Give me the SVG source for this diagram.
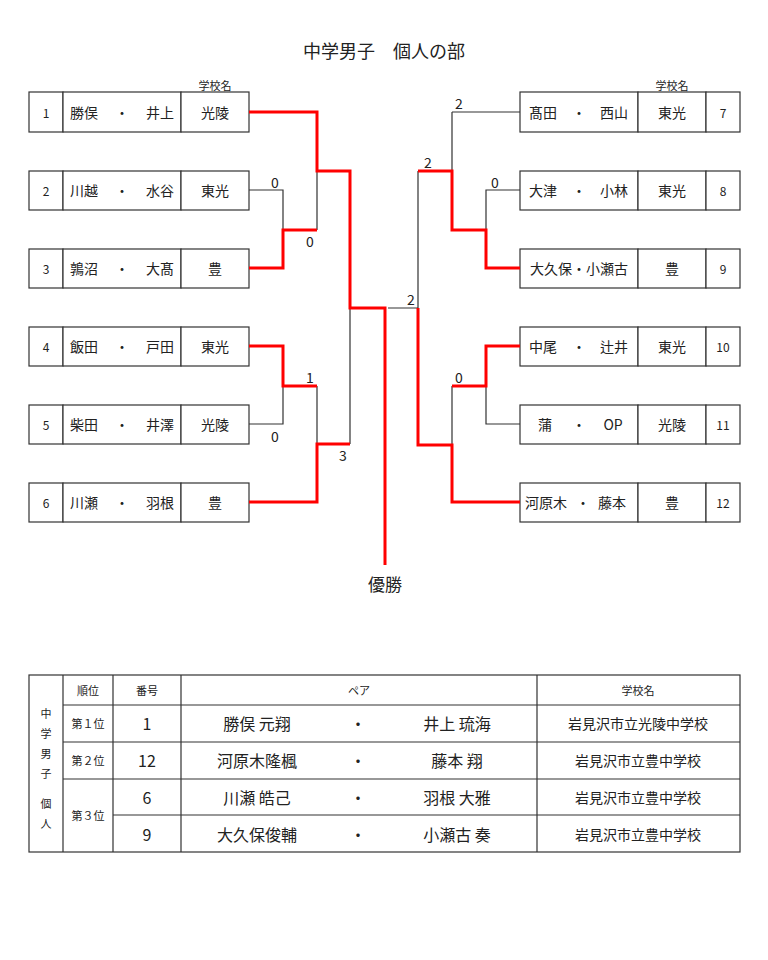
<svg xmlns="http://www.w3.org/2000/svg" width="768" height="960" viewBox="0 0 768 960">
<style>
text{font-family:"Noto Sans CJK JP","Liberation Sans",sans-serif;fill:#222;text-anchor:middle;dominant-baseline:central}
.b{fill:#fff;stroke:#333;stroke-width:1.2}
.n{font-size:14px}.s{font-size:12px}.h{font-size:11px}.sc{font-size:14px}
.k{fill:none;stroke:#333;stroke-width:1.2}
.r{fill:none;stroke:#f00;stroke-width:3}
.t{font-size:16px}
</style>
<rect width="768" height="960" fill="#fff"/>
<text x="384" y="50" style="font-size:18px">中学男子　個人の部</text>
<text x="215" y="85" class="h">学校名</text>
<text x="672" y="85" class="h">学校名</text>
<g id="left-nodes">
<g id="n1"><rect class="b" x="29" y="92" width="34" height="40"/><rect class="b" x="63" y="92" width="118" height="40"/><rect class="b" x="181" y="92" width="68" height="40"/><text x="46" y="112" class="s">1</text><text x="84" y="112" class="n">勝俣</text><text x="122" y="112" class="n">・</text><text x="160" y="112" class="n">井上</text><text x="215" y="112" class="n">光陵</text></g>
<g id="n2"><rect class="b" x="29" y="171" width="34" height="39"/><rect class="b" x="63" y="171" width="118" height="39"/><rect class="b" x="181" y="171" width="68" height="39"/><text x="46" y="190" class="s">2</text><text x="84" y="190" class="n">川越</text><text x="122" y="190" class="n">・</text><text x="160" y="190" class="n">水谷</text><text x="215" y="190" class="n">東光</text></g>
<g id="n3"><rect class="b" x="29" y="249" width="34" height="39"/><rect class="b" x="63" y="249" width="118" height="39"/><rect class="b" x="181" y="249" width="68" height="39"/><text x="46" y="268" class="s">3</text><text x="84" y="268" class="n">鶉沼</text><text x="122" y="268" class="n">・</text><text x="160" y="268" class="n">大髙</text><text x="215" y="268" class="n">豊</text></g>
<g id="n4"><rect class="b" x="29" y="327" width="34" height="39"/><rect class="b" x="63" y="327" width="118" height="39"/><rect class="b" x="181" y="327" width="68" height="39"/><text x="46" y="346" class="s">4</text><text x="84" y="346" class="n">飯田</text><text x="122" y="346" class="n">・</text><text x="160" y="346" class="n">戸田</text><text x="215" y="346" class="n">東光</text></g>
<g id="n5"><rect class="b" x="29" y="405" width="34" height="39"/><rect class="b" x="63" y="405" width="118" height="39"/><rect class="b" x="181" y="405" width="68" height="39"/><text x="46" y="424" class="s">5</text><text x="84" y="424" class="n">柴田</text><text x="122" y="424" class="n">・</text><text x="160" y="424" class="n">井澤</text><text x="215" y="424" class="n">光陵</text></g>
<g id="n6"><rect class="b" x="29" y="483" width="34" height="39"/><rect class="b" x="63" y="483" width="118" height="39"/><rect class="b" x="181" y="483" width="68" height="39"/><text x="46" y="502" class="s">6</text><text x="84" y="502" class="n">川瀬</text><text x="122" y="502" class="n">・</text><text x="160" y="502" class="n">羽根</text><text x="215" y="502" class="n">豊</text></g>
</g>
<g id="right-nodes">
<g id="n7"><rect class="b" x="520" y="92" width="118" height="40"/><rect class="b" x="638" y="92" width="68" height="40"/><rect class="b" x="706" y="92" width="34" height="40"/><text x="543" y="112" class="n">髙田</text><text x="579" y="112" class="n">・</text><text x="614" y="112" class="n">西山</text><text x="672" y="112" class="n">東光</text><text x="723" y="112" class="s">7</text></g>
<g id="n8"><rect class="b" x="520" y="171" width="118" height="39"/><rect class="b" x="638" y="171" width="68" height="39"/><rect class="b" x="706" y="171" width="34" height="39"/><text x="543" y="190" class="n">大津</text><text x="579" y="190" class="n">・</text><text x="614" y="190" class="n">小林</text><text x="672" y="190" class="n">東光</text><text x="723" y="190" class="s">8</text></g>
<g id="n9"><rect class="b" x="520" y="249" width="118" height="39"/><rect class="b" x="638" y="249" width="68" height="39"/><rect class="b" x="706" y="249" width="34" height="39"/><text x="579" y="268" class="n">大久保・小瀬古</text><text x="672" y="268" class="n">豊</text><text x="723" y="268" class="s">9</text></g>
<g id="n10"><rect class="b" x="520" y="327" width="118" height="39"/><rect class="b" x="638" y="327" width="68" height="39"/><rect class="b" x="706" y="327" width="34" height="39"/><text x="543" y="346" class="n">中尾</text><text x="579" y="346" class="n">・</text><text x="614" y="346" class="n">辻井</text><text x="672" y="346" class="n">東光</text><text x="723" y="346" class="s">10</text></g>
<g id="n11"><rect class="b" x="520" y="405" width="118" height="39"/><rect class="b" x="638" y="405" width="68" height="39"/><rect class="b" x="706" y="405" width="34" height="39"/><text x="545" y="424" class="n">蒲</text><text x="579" y="424" class="n">・</text><text x="613" y="424" class="n">OP</text><text x="672" y="424" class="n">光陵</text><text x="723" y="424" class="s">11</text></g>
<g id="n12"><rect class="b" x="520" y="483" width="118" height="39"/><rect class="b" x="638" y="483" width="68" height="39"/><rect class="b" x="706" y="483" width="34" height="39"/><text x="546" y="502" class="n">河原木</text><text x="583" y="502" class="n">・</text><text x="612" y="502" class="n">藤本</text><text x="672" y="502" class="n">豊</text><text x="723" y="502" class="s">12</text></g>
</g>
<g id="connectors">
<path class="k" d="M249,190H283V230M317,230V171M283,386V424H249M317,386V444M350,308V444M388,308H418V171M452,112H520M452,112V171M520,190H486V230M486,386V424H520M452,386V445"/>
<path class="r" d="M249,112H317V171H350V308H385V565"/>
<path class="r" d="M249,268H283V230H317"/>
<path class="r" d="M249,346H283V386H317"/>
<path class="r" d="M249,502H317V444H350"/>
<path class="r" d="M418,308V445H452V502H520"/>
<path class="r" d="M418,171H452V230H486V268H520"/>
<path class="r" d="M520,346H486V386H452"/>
</g>
<g id="scores" class="sc">
<text x="275" y="182" class="sc">0</text><text x="310" y="241" class="sc">0</text>
<text x="310" y="377" class="sc">1</text><text x="275" y="436" class="sc">0</text>
<text x="343" y="455" class="sc">3</text><text x="411" y="299" class="sc">2</text>
<text x="459" y="103" class="sc">2</text><text x="428" y="162" class="sc">2</text>
<text x="495" y="182" class="sc">0</text><text x="459" y="377" class="sc">0</text>
</g>
<text x="385" y="583" style="font-size:17px">優勝</text>
<g id="table">
<rect class="b" x="29" y="675" width="711" height="177"/>
<path class="k" d="M63,675V852M113,675V852M181,675V852M537,675V852M63,705H740M63,742H740M63,779H740M113,815H740"/>
<g class="h"><text x="46" y="713" class="h">中</text><text x="46" y="733" class="h">学</text><text x="46" y="753" class="h">男</text><text x="46" y="773" class="h">子</text><text x="46" y="803" class="h">個</text><text x="46" y="823" class="h">人</text></g>
<text x="88" y="690" class="h">順位</text><text x="147" y="690" class="h">番号</text><text x="359" y="690" class="h">ペア</text><text x="638" y="690" class="h">学校名</text>
<text x="88" y="723" class="h">第１位</text><text x="88" y="760" class="h">第２位</text><text x="88" y="815" class="h">第３位</text>
<text x="147" y="723" class="t">1</text><text x="147" y="760" class="t">12</text><text x="147" y="797" class="t">6</text><text x="147" y="834" class="t">9</text>
<text x="257" y="723" class="t">勝俣 元翔</text><text x="358" y="723" class="t">・</text><text x="457" y="723" class="t">井上 琉海</text>
<text x="257" y="760" class="t">河原木隆楓</text><text x="358" y="760" class="t">・</text><text x="457" y="760" class="t">藤本 翔</text>
<text x="257" y="797" class="t">川瀬 皓己</text><text x="358" y="797" class="t">・</text><text x="457" y="797" class="t">羽根 大雅</text>
<text x="257" y="834" class="t">大久保俊輔</text><text x="358" y="834" class="t">・</text><text x="457" y="834" class="t">小瀬古 奏</text>
<text x="638" y="723" class="n">岩見沢市立光陵中学校</text><text x="638" y="760" class="n">岩見沢市立豊中学校</text><text x="638" y="797" class="n">岩見沢市立豊中学校</text><text x="638" y="834" class="n">岩見沢市立豊中学校</text>
</g>
</svg>
